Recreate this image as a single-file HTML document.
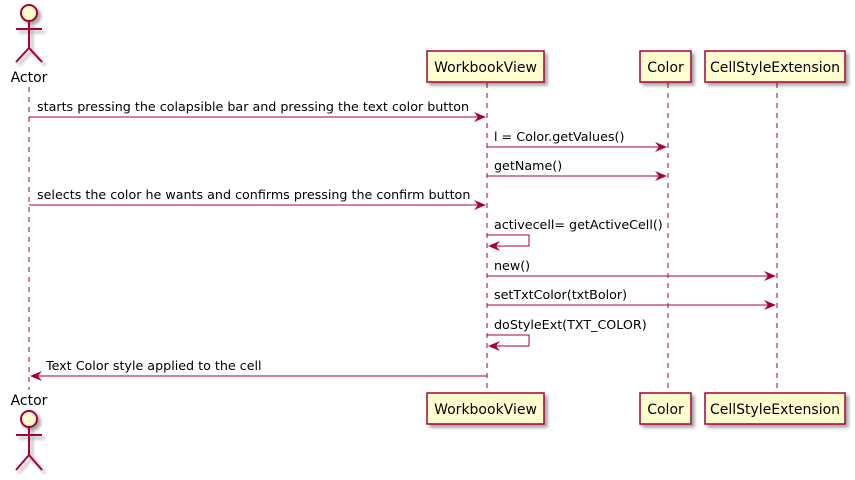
<!DOCTYPE html>
<html><head><meta charset="utf-8"><style>
html,body{margin:0;padding:0;background:#fff;}
svg{display:block;font-family:"DejaVu Sans","Liberation Sans",sans-serif;}
</style></head><body>
<svg width="855" height="480" viewBox="0 0 855 480" xmlns="http://www.w3.org/2000/svg">
<defs>
<filter id="sh" x="-20%" y="-20%" width="150%" height="150%"><feGaussianBlur in="SourceAlpha" stdDeviation="1.5"/><feOffset dx="3" dy="3"/><feComponentTransfer><feFuncA type="linear" slope="0.35"/></feComponentTransfer><feMerge><feMergeNode/><feMergeNode in="SourceGraphic"/></feMerge></filter>
</defs>
<g stroke="#A80036" stroke-width="1" stroke-dasharray="5,5" fill="none">
<line x1="29" y1="87" x2="29" y2="390"/>
<line x1="487" y1="83" x2="487" y2="393"/>
<line x1="668" y1="83" x2="668" y2="393"/>
<line x1="777" y1="83" x2="777" y2="393"/>
</g>
<g stroke="#A80036" stroke-width="2" fill="none" filter="url(#sh)">
<circle cx="29" cy="13" r="8" fill="#FEFECE"/>
<line x1="29" y1="21" x2="29" y2="48"/><line x1="16" y1="29" x2="42" y2="29"/>
<polyline points="16,62 29,48 42,62"/>
<circle cx="29" cy="419" r="8" fill="#FEFECE"/>
<line x1="29" y1="427" x2="29" y2="455"/><line x1="16" y1="435" x2="42" y2="435"/>
<polyline points="16,470 29,455 42,470"/>
</g>
<g font-size="14" fill="#000" text-anchor="middle">
<text x="29" y="82">Actor</text>
<text x="29" y="405">Actor</text>
</g>
<g fill="#FEFECE" stroke="#A80036" stroke-width="1.5" filter="url(#sh)">
<rect x="427" y="51" width="117" height="31"/>
<rect x="640" y="51" width="51" height="31"/>
<rect x="705" y="51" width="140" height="31"/>
<rect x="427" y="393" width="117" height="31"/>
<rect x="640" y="393" width="51" height="31"/>
<rect x="705" y="393" width="140" height="31"/>
</g>
<g font-size="14" fill="#000" text-anchor="middle">
<text x="485.5" y="72">WorkbookView</text>
<text x="665.5" y="72">Color</text>
<text x="775" y="72">CellStyleExtension</text>
<text x="485.5" y="414">WorkbookView</text>
<text x="665.5" y="414">Color</text>
<text x="775" y="414">CellStyleExtension</text>
</g>
<g stroke="#A80036" stroke-width="1" fill="none">
<line x1="29" y1="117" x2="485" y2="117"/>
<line x1="487" y1="147" x2="666" y2="147"/>
<line x1="487" y1="176" x2="666" y2="176"/>
<line x1="29" y1="205" x2="485" y2="205"/>
<polyline points="487,235 529,235 529,246 489,246"/>
<line x1="487" y1="276" x2="775" y2="276"/>
<line x1="487" y1="305" x2="775" y2="305"/>
<polyline points="487,335 529,335 529,346 489,346"/>
<line x1="31" y1="376" x2="487" y2="376"/>
</g>
<g fill="#A80036">
<polygon points="486,117 474,112 478,117 474,122"/>
<polygon points="667,147 655,142 659,147 655,152"/>
<polygon points="667,176 655,171 659,176 655,181"/>
<polygon points="486,205 474,200 478,205 474,210"/>
<polygon points="488,246 500,241 496,246 500,251"/>
<polygon points="776,276 764,271 768,276 764,281"/>
<polygon points="776,305 764,300 768,305 764,310"/>
<polygon points="488,346 500,341 496,346 500,351"/>
<polygon points="30,376 42,371 38,376 42,381"/>
</g>
<g font-size="12.7" fill="#000">
<text x="37" y="111">starts pressing the colapsible bar and pressing the text color button</text>
<text x="494" y="141">l = Color.getValues()</text>
<text x="494" y="170">getName()</text>
<text x="37" y="199">selects the color he wants and confirms pressing the confirm button</text>
<text x="494" y="229">activecell= getActiveCell()</text>
<text x="494" y="270">new()</text>
<text x="494" y="299">setTxtColor(txtBolor)</text>
<text x="494" y="329">doStyleExt(TXT_COLOR)</text>
<text x="46" y="370">Text Color style applied to the cell</text>
</g>
</svg>
</body></html>
